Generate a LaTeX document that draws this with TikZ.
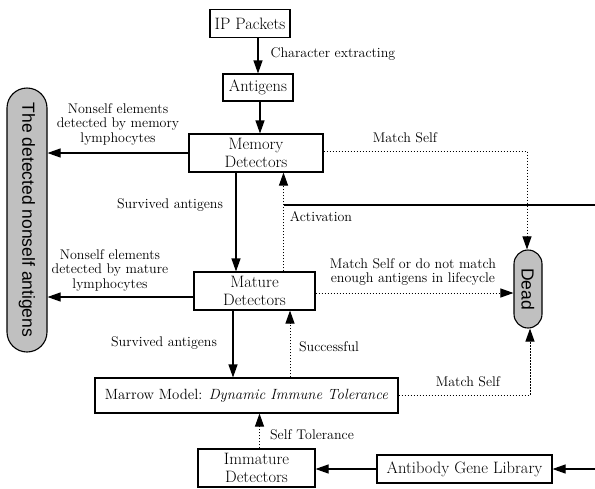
\documentclass[tikz,border=0pt]{standalone}
\usepackage{fontspec}
\newfontfamily\arialfont{Liberation Sans}
\usetikzlibrary{arrows.meta}
\definecolor{lightgrey}{RGB}{192,192,192}
\begin{document}
\begin{tikzpicture}[x=1pt,y=-1pt,
		box/.style={draw, line width=1.1pt, inner sep=0pt, align=center, font=\fontsize{16.5}{18.5}\selectfont},
		pill/.style={draw, line width=1.1pt, fill=lightgrey, inner sep=0pt, rotate=-90, font=\arialfont\fontsize{17.5}{19}\selectfont},
		lbl/.style={align=center, inner sep=0pt, font=\fontsize{14}{14.5}\selectfont},
		arr/.style={line width=1.1pt, -{Triangle[length=13pt,width=9pt]}},
		darr/.style={line width=1pt, dash pattern=on 1.5pt off 1.5pt, -{Triangle[length=13pt,width=9pt]}}]
		
		\useasboundingbox (0,0) rectangle (595,488);
		
		% boxes
		\node[box, minimum width=80pt, minimum height=28pt] (ip) at (250,23.5) {IP Packets};
		\node[box, minimum width=70pt, minimum height=27pt] (ag) at (258,87.5) {Antigens};
		\node[box, minimum width=134pt, minimum height=38pt] (mem) at (256,153) {Memory\\Detectors};
		\node[box, minimum width=121pt, minimum height=38pt] (mat) at (254.5,291) {Mature\\Detectors};
		\node[box, minimum width=303pt, minimum height=35pt, font=\fontsize{14.8}{16}\selectfont] (mar) at (246.5,395.5) {Marrow Model: \textit{Dynamic Immune Tolerance}};
		\node[box, minimum width=117pt, minimum height=38pt] (imm) at (256.5,468) {Immature\\Detectors};
		\node[box, minimum width=175pt, minimum height=28pt] (lib) at (464.5,469) {Antibody Gene Library};
		
		\node[pill, minimum width=264pt, minimum height=40pt, rounded corners=20pt] (nsa) at (27,220) {The detected nonself antigens};
		\node[pill, minimum width=78pt, minimum height=28pt, rounded corners=14pt] (dead) at (528,289) {Dead};
		
		\coordinate (in1) at (595,205);
		\coordinate (in2) at (595,469);
		
		% connectors
		\draw[arr] (ag.north |- ip.south) -- (ag.north);
		\draw[arr] ([xshift=2pt]ag.south) -- ([xshift=2pt]ag.south |- mem.north);
		\draw[arr] (mem.west) -- (mem.west -| nsa.north);
		\draw[arr] ([xshift=-20pt]mem.south) -- ([xshift=-20pt]mem.south |- mat.north);
		\draw[darr] ([xshift=29pt]mat.north) -- ([xshift=29pt]mat.north |- mem.south);
		\draw[line width=1.1pt] (in1) -- ([xshift=29pt]mat.north |- in1);
		\draw[darr] ([yshift=2pt]mem.east) -| ([xshift=-1pt]dead.west);
		
		\draw[arr] ([yshift=-6pt]mat.west) -- ([yshift=-6pt]mat.west -| nsa.north);
		\draw[darr] ([yshift=-2pt]mat.east) -- ([yshift=-2pt]mat.east -| dead.south);
		\draw[arr] ([xshift=-21.5pt]mat.south) -- ([xshift=-21.5pt]mat.south |- mar.north);
		\draw[darr] ([xshift=35.5pt]mat.south |- mar.north) -- ([xshift=35.5pt]mat.south);
		\draw[darr] (mar.east) -| ([xshift=2pt]dead.east);
		
		\draw[darr] ([xshift=3pt]imm.north) -- ([xshift=3pt]imm.north |- mar.south);
		\draw[arr] (lib.west) -- (lib.west -| imm.east);
		\draw[arr] (in2) -- (lib.east);
		
		% labels
		\node[lbl] (lchar) at (333,54) {Character extracting};
		\node[lbl] (lnsmem) at (118,124) {Nonself elements\\detected by memory\\lymphocytes};
		\node[lbl] (lsurv1) at (170,205) {Survived antigens};
		\node[lbl] (lact) at (321,217) {Activation};
		\node[lbl] (lms1) at (405,138) {Match Self};
		\node[lbl] (lnsmat) at (110,270) {Nonself elements\\detected by mature\\lymphocytes};
		\node[lbl] (lmsor) at (413,272) {Match Self or do not match\\enough antigens in lifecycle};
		\node[lbl] (lsurv2) at (164,343) {Survived antigens};
		\node[lbl] (lsucc) at (329,347) {Successful};
		\node[lbl] (lms2) at (468,382) {Match Self};
		\node[lbl] (lst) at (312,435) {Self Tolerance};
		
	\end{tikzpicture}
\end{document}
